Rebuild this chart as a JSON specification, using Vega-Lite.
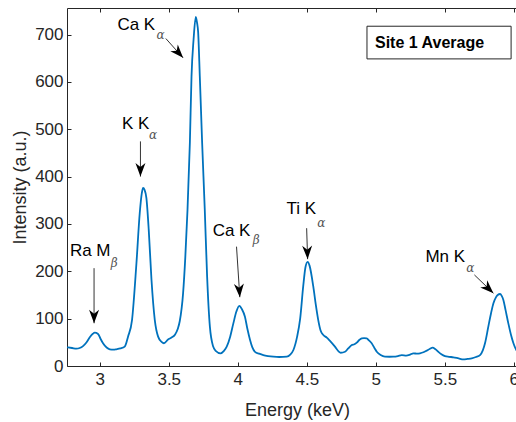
{
  "$schema": "https://vega.github.io/schema/vega-lite/v6.json",
  "width": 451,
  "height": 358,
  "autosize": {"type": "none"},
  "padding": {"left": 67, "top": 8, "right": 0, "bottom": 56},
  "config": {
    "view": {"stroke": null},
    "font": "Liberation Sans",
    "axis": {
      "grid": false,
      "domainColor": "#262626",
      "tickColor": "#262626",
      "labelColor": "#262626",
      "titleColor": "#262626",
      "labelFont": "Liberation Sans",
      "titleFont": "Liberation Sans",
      "labelFontSize": 17,
      "titleFontSize": 18,
      "titleFontWeight": "normal",
      "domainWidth": 1,
      "tickWidth": 1
    }
  },
  "datasets": {
    "spectrum": [
      {"e": 2.763, "i": 39.5}, {"e": 2.8, "i": 38}, {"e": 2.831, "i": 36.6}, {"e": 2.855, "i": 38},
      {"e": 2.879, "i": 42}, {"e": 2.905, "i": 50}, {"e": 2.928, "i": 60.7}, {"e": 2.95, "i": 68},
      {"e": 2.964, "i": 70.4}, {"e": 2.988, "i": 67.7}, {"e": 3.005, "i": 58}, {"e": 3.024, "i": 48},
      {"e": 3.05, "i": 39}, {"e": 3.073, "i": 35.3}, {"e": 3.1, "i": 34.5}, {"e": 3.121, "i": 35.3},
      {"e": 3.15, "i": 37}, {"e": 3.181, "i": 41}, {"e": 3.205, "i": 62}, {"e": 3.234, "i": 97},
      {"e": 3.266, "i": 217}, {"e": 3.29, "i": 323}, {"e": 3.305, "i": 365}, {"e": 3.314, "i": 376},
      {"e": 3.325, "i": 372}, {"e": 3.338, "i": 355}, {"e": 3.355, "i": 288}, {"e": 3.375, "i": 182},
      {"e": 3.399, "i": 97}, {"e": 3.423, "i": 62}, {"e": 3.448, "i": 51}, {"e": 3.465, "i": 48},
      {"e": 3.495, "i": 56}, {"e": 3.52, "i": 60}, {"e": 3.545, "i": 66}, {"e": 3.565, "i": 78},
      {"e": 3.58, "i": 95}, {"e": 3.604, "i": 154}, {"e": 3.62, "i": 230}, {"e": 3.636, "i": 330},
      {"e": 3.653, "i": 471}, {"e": 3.665, "i": 612}, {"e": 3.68, "i": 690}, {"e": 3.696, "i": 737},
      {"e": 3.705, "i": 725}, {"e": 3.713, "i": 705}, {"e": 3.725, "i": 612}, {"e": 3.742, "i": 471},
      {"e": 3.761, "i": 330}, {"e": 3.778, "i": 189}, {"e": 3.798, "i": 83}, {"e": 3.822, "i": 41},
      {"e": 3.84, "i": 32}, {"e": 3.876, "i": 26.8}, {"e": 3.9, "i": 32}, {"e": 3.92, "i": 40.8},
      {"e": 3.945, "i": 62}, {"e": 3.968, "i": 90}, {"e": 3.99, "i": 115}, {"e": 4.011, "i": 127},
      {"e": 4.03, "i": 120}, {"e": 4.052, "i": 104}, {"e": 4.07, "i": 78}, {"e": 4.089, "i": 55},
      {"e": 4.105, "i": 40}, {"e": 4.125, "i": 30}, {"e": 4.155, "i": 26}, {"e": 4.185, "i": 23},
      {"e": 4.22, "i": 21}, {"e": 4.258, "i": 19.7}, {"e": 4.3, "i": 19}, {"e": 4.355, "i": 19.7},
      {"e": 4.38, "i": 24}, {"e": 4.403, "i": 33.8}, {"e": 4.43, "i": 62}, {"e": 4.452, "i": 100},
      {"e": 4.474, "i": 168}, {"e": 4.49, "i": 208}, {"e": 4.506, "i": 220}, {"e": 4.52, "i": 212},
      {"e": 4.547, "i": 168}, {"e": 4.565, "i": 130}, {"e": 4.583, "i": 97}, {"e": 4.6, "i": 75},
      {"e": 4.62, "i": 65.5}, {"e": 4.645, "i": 60}, {"e": 4.668, "i": 53}, {"e": 4.704, "i": 40.8},
      {"e": 4.73, "i": 31}, {"e": 4.746, "i": 28}, {"e": 4.777, "i": 30}, {"e": 4.8, "i": 37},
      {"e": 4.826, "i": 44.4}, {"e": 4.845, "i": 46}, {"e": 4.862, "i": 49.3}, {"e": 4.88, "i": 55},
      {"e": 4.898, "i": 58.5}, {"e": 4.915, "i": 59}, {"e": 4.934, "i": 58.5}, {"e": 4.95, "i": 54},
      {"e": 4.97, "i": 48}, {"e": 4.99, "i": 38}, {"e": 5.007, "i": 30}, {"e": 5.035, "i": 23},
      {"e": 5.066, "i": 19.7}, {"e": 5.1, "i": 19.5}, {"e": 5.127, "i": 19.7}, {"e": 5.16, "i": 21},
      {"e": 5.188, "i": 23}, {"e": 5.22, "i": 22}, {"e": 5.248, "i": 24}, {"e": 5.272, "i": 26.8},
      {"e": 5.3, "i": 26}, {"e": 5.32, "i": 26.8}, {"e": 5.345, "i": 29}, {"e": 5.368, "i": 32.4},
      {"e": 5.39, "i": 36}, {"e": 5.412, "i": 38.7}, {"e": 5.43, "i": 36}, {"e": 5.453, "i": 30},
      {"e": 5.475, "i": 25}, {"e": 5.501, "i": 21}, {"e": 5.53, "i": 19.5}, {"e": 5.562, "i": 18.4},
      {"e": 5.6, "i": 16}, {"e": 5.634, "i": 14}, {"e": 5.665, "i": 15}, {"e": 5.695, "i": 16.3},
      {"e": 5.725, "i": 19}, {"e": 5.755, "i": 23}, {"e": 5.775, "i": 33}, {"e": 5.791, "i": 48},
      {"e": 5.815, "i": 83}, {"e": 5.835, "i": 112}, {"e": 5.852, "i": 132.6}, {"e": 5.87, "i": 145},
      {"e": 5.883, "i": 150}, {"e": 5.9, "i": 152}, {"e": 5.912, "i": 148}, {"e": 5.924, "i": 139.6},
      {"e": 5.94, "i": 118}, {"e": 5.96, "i": 90}, {"e": 5.98, "i": 65}, {"e": 5.997, "i": 48},
      {"e": 6.017, "i": 34}, {"e": 6.03, "i": 29}
    ],
    "arrows": [
      {"x": 3.479, "y": 691.5, "x2": 3.604, "y2": 650.7, "angle": 138},
      {"x": 3.295, "y": 474.3, "x2": 3.295, "y2": 400, "angle": 180},
      {"x": 2.959, "y": 206.6, "x2": 2.959, "y2": 90.3, "angle": 180},
      {"x": 3.991, "y": 252, "x2": 4.015, "y2": 145.3, "angle": 176},
      {"x": 4.499, "y": 291, "x2": 4.506, "y2": 225.6, "angle": 178},
      {"x": 5.714, "y": 192.4, "x2": 5.852, "y2": 153.7, "angle": 134}
    ],
    "labels": [
      {"label": "Ca K", "x": 3.265, "y": 721},
      {"label": "K K", "x": 3.261, "y": 512},
      {"label": "Ra M", "x": 2.931, "y": 243.6},
      {"label": "Ca K", "x": 3.955, "y": 285.9},
      {"label": "Ti K", "x": 4.461, "y": 331},
      {"label": "Mn K", "x": 5.503, "y": 229.4}
    ],
    "subs": [
      {"s": "α", "x": 3.44, "y": 700},
      {"s": "α", "x": 3.387, "y": 488.5},
      {"s": "β", "x": 3.105, "y": 218.2},
      {"s": "β", "x": 4.134, "y": 265.4},
      {"s": "α", "x": 4.605, "y": 303},
      {"s": "α", "x": 5.685, "y": 206.6}
    ],
    "box": [
      {"x": 4.936, "x2": 5.98, "y": 717.5, "y2": 648.5, "tx": 4.994, "ty": 682.4, "t": "Site 1 Average"}
    ]
  },
  "layer": [
    {
      "data": {"name": "spectrum"},
      "mark": {"type": "line", "color": "#0072BD", "strokeWidth": 1.8, "interpolate": "monotone", "clip": true},
      "encoding": {
        "x": {
          "field": "e", "type": "quantitative",
          "scale": {"domain": [2.763, 6.03], "nice": false, "zero": false},
          "axis": {
            "title": "Energy (keV)",
            "values": [3, 3.5, 4, 4.5, 5, 5.5, 6],
            "format": "~r",
            "tickSize": -4,
            "labelPadding": 9,
            "labelFlush": false,
            "titleX": 230,
            "titleY": 49,
            "titleBaseline": "alphabetic"
          }
        },
        "y": {
          "field": "i", "type": "quantitative",
          "scale": {"domain": [0, 756], "nice": false},
          "axis": {
            "title": "Intensity (a.u.)",
            "values": [0, 100, 200, 300, 400, 500, 600, 700],
            "format": "~r",
            "tickSize": -4,
            "labelPadding": 8,
            "labelFlush": false,
            "titleX": -42,
            "titleY": 179,
            "titleAngle": -90,
            "titleAlign": "center",
            "titleBaseline": "alphabetic"
          }
        }
      }
    },
    {
      "data": {"name": "arrows"},
      "mark": {"type": "rule", "color": "#333333", "strokeWidth": 1},
      "encoding": {
        "x": {"field": "x", "type": "quantitative", "axis": null},
        "y": {"field": "y", "type": "quantitative"},
        "x2": {"field": "x2"},
        "y2": {"field": "y2"}
      }
    },
    {
      "data": {"name": "arrows"},
      "mark": {"type": "point", "shape": "M0,0 L0.5,1.35 L0,0.95 L-0.5,1.35 Z", "filled": true, "color": "#000000", "size": 400, "opacity": 1, "strokeWidth": 0},
      "encoding": {
        "x": {"field": "x2", "type": "quantitative", "axis": null},
        "y": {"field": "y2", "type": "quantitative"},
        "angle": {"field": "angle", "type": "quantitative", "scale": null}
      }
    },
    {
      "data": {"name": "labels"},
      "mark": {"type": "text", "font": "Liberation Sans", "fontSize": 17, "color": "#000000", "align": "center", "baseline": "middle"},
      "encoding": {
        "x": {"field": "x", "type": "quantitative", "axis": null},
        "y": {"field": "y", "type": "quantitative"},
        "text": {"field": "label"}
      }
    },
    {
      "data": {"name": "subs"},
      "mark": {"type": "text", "font": "DejaVu Serif", "fontStyle": "italic", "fontSize": 12, "color": "#555555", "align": "center", "baseline": "middle"},
      "encoding": {
        "x": {"field": "x", "type": "quantitative", "axis": null},
        "y": {"field": "y", "type": "quantitative"},
        "text": {"field": "s"}
      }
    },
    {
      "data": {"name": "box"},
      "mark": {"type": "rect", "fill": "#ffffff", "stroke": "#262626", "strokeWidth": 1},
      "encoding": {
        "x": {
          "field": "x", "type": "quantitative",
          "axis": {"orient": "top", "labels": false, "title": null, "values": [3, 3.5, 4, 4.5, 5, 5.5, 6], "tickSize": -4}
        },
        "x2": {"field": "x2"},
        "y": {"field": "y", "type": "quantitative"},
        "y2": {"field": "y2"}
      }
    },
    {
      "data": {"name": "box"},
      "mark": {"type": "text", "font": "Liberation Sans", "fontWeight": "bold", "fontSize": 16, "color": "#000000", "align": "left", "baseline": "middle"},
      "encoding": {
        "x": {"field": "tx", "type": "quantitative", "axis": null},
        "y": {"field": "ty", "type": "quantitative"},
        "text": {"field": "t"}
      }
    }
  ],
  "resolve": {"axis": {"x": "independent"}}
}
